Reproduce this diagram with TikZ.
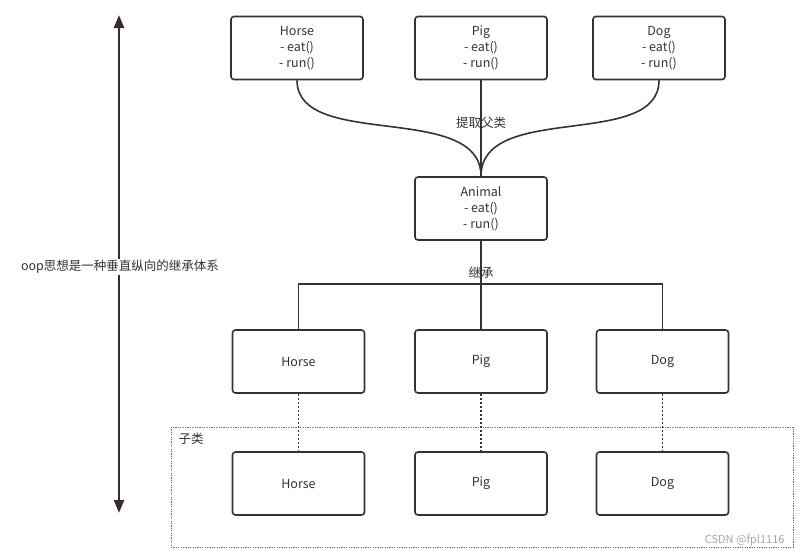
\documentclass[tikz,border=0pt]{standalone}
\usepackage{fontspec}
\setmainfont{Noto Sans CJK SC}
\usepackage{tikz}
\usetikzlibrary{arrows.meta}
\definecolor{trazo}{HTML}{333333}
\definecolor{flecha}{HTML}{3B2C2C}
\tikzstyle{clase} = [draw=trazo, line width=1.6pt, rectangle, rounded corners=3pt, minimum width=132pt, minimum height=63pt, align=center, text=trazo, font=\fontsize{12.5}{16}\selectfont]
\tikzstyle{enlace} = [draw=trazo, line width=1.6pt]
\tikzstyle{punteado} = [draw=trazo, line width=1.6pt, dash pattern=on 2pt off 2pt]
\tikzstyle{rotulo} = [text=trazo, font=\fontsize{12.5}{14}\selectfont]

\begin{document}
\begin{tikzpicture}[x=1pt,y=-1pt]
		\useasboundingbox (0,0) rectangle (803,557);
		% vertical arrow
		\coordinate (arriba) at (119,15);
		\coordinate (abajo) at (119,513);
		\draw[flecha, line width=2.6pt, {Triangle[length=13pt,width=10pt]}-{Triangle[length=13pt,width=10pt]}] (arriba) -- (abajo);
		\node[rotulo, fill=white, inner sep=1pt] (idea) at (120,267) {oop思想是一种垂直纵向的继承体系};
		% subclass group
		\draw[gray!80!black, line width=0.6pt, dash pattern=on 1.2pt off 1.2pt] (171,427) rectangle (793,547);
		\node[rotulo, anchor=west] (subclase) at (175,439) {子类};
		% classes
		\node[clase] (horse1) at (297,48) {Horse\\- eat()\\- run()};
		\node[clase] (pig1) at (481,48) {Pig\\- eat()\\- run()};
		\node[clase] (dog1) at (659,48) {Dog\\- eat()\\- run()};
		\node[clase] (animal) at (481,208.5) {Animal\\- eat()\\- run()};
		\node[clase] (horse2) at (298.5,361.5) {Horse};
		\node[clase] (pig2) at (481,361.5) {Pig};
		\node[clase] (dog2) at (662.5,361.5) {Dog};
		\node[clase] (horse3) at (298.5,483.5) {Horse};
		\node[clase] (pig3) at (481,483.5) {Pig};
		\node[clase] (dog3) at (662.5,483.5) {Dog};
		% extraction
		\draw[enlace] (horse1.south) .. controls +(0,70) and +(0,-75) .. (animal.north);
		\draw[enlace] (dog1.south) .. controls +(0,70) and +(0,-75) .. (animal.north);
		\draw[enlace] (pig1.south) -- (animal.north);
		\node[rotulo] (extraer) at (481,123) {提取父类};
		% inheritance
		\draw[enlace] (animal.south) -- (pig2.north);
		\draw[enlace] (horse2.north) -- ++(0,-45) -| (dog2.north);
		\node[rotulo] (heredar) at (481,273) {继承};
		\draw[punteado] (horse2.south) -- (horse3.north);
		\draw[punteado] (pig2.south) -- (pig3.north);
		\draw[punteado] (dog2.south) -- (dog3.north);
		\node[text=gray!70, anchor=east, font=\fontsize{11}{13}\selectfont] (marca) at (788,540) {CSDN @fpl1116};
	\end{tikzpicture}
\end{document}
